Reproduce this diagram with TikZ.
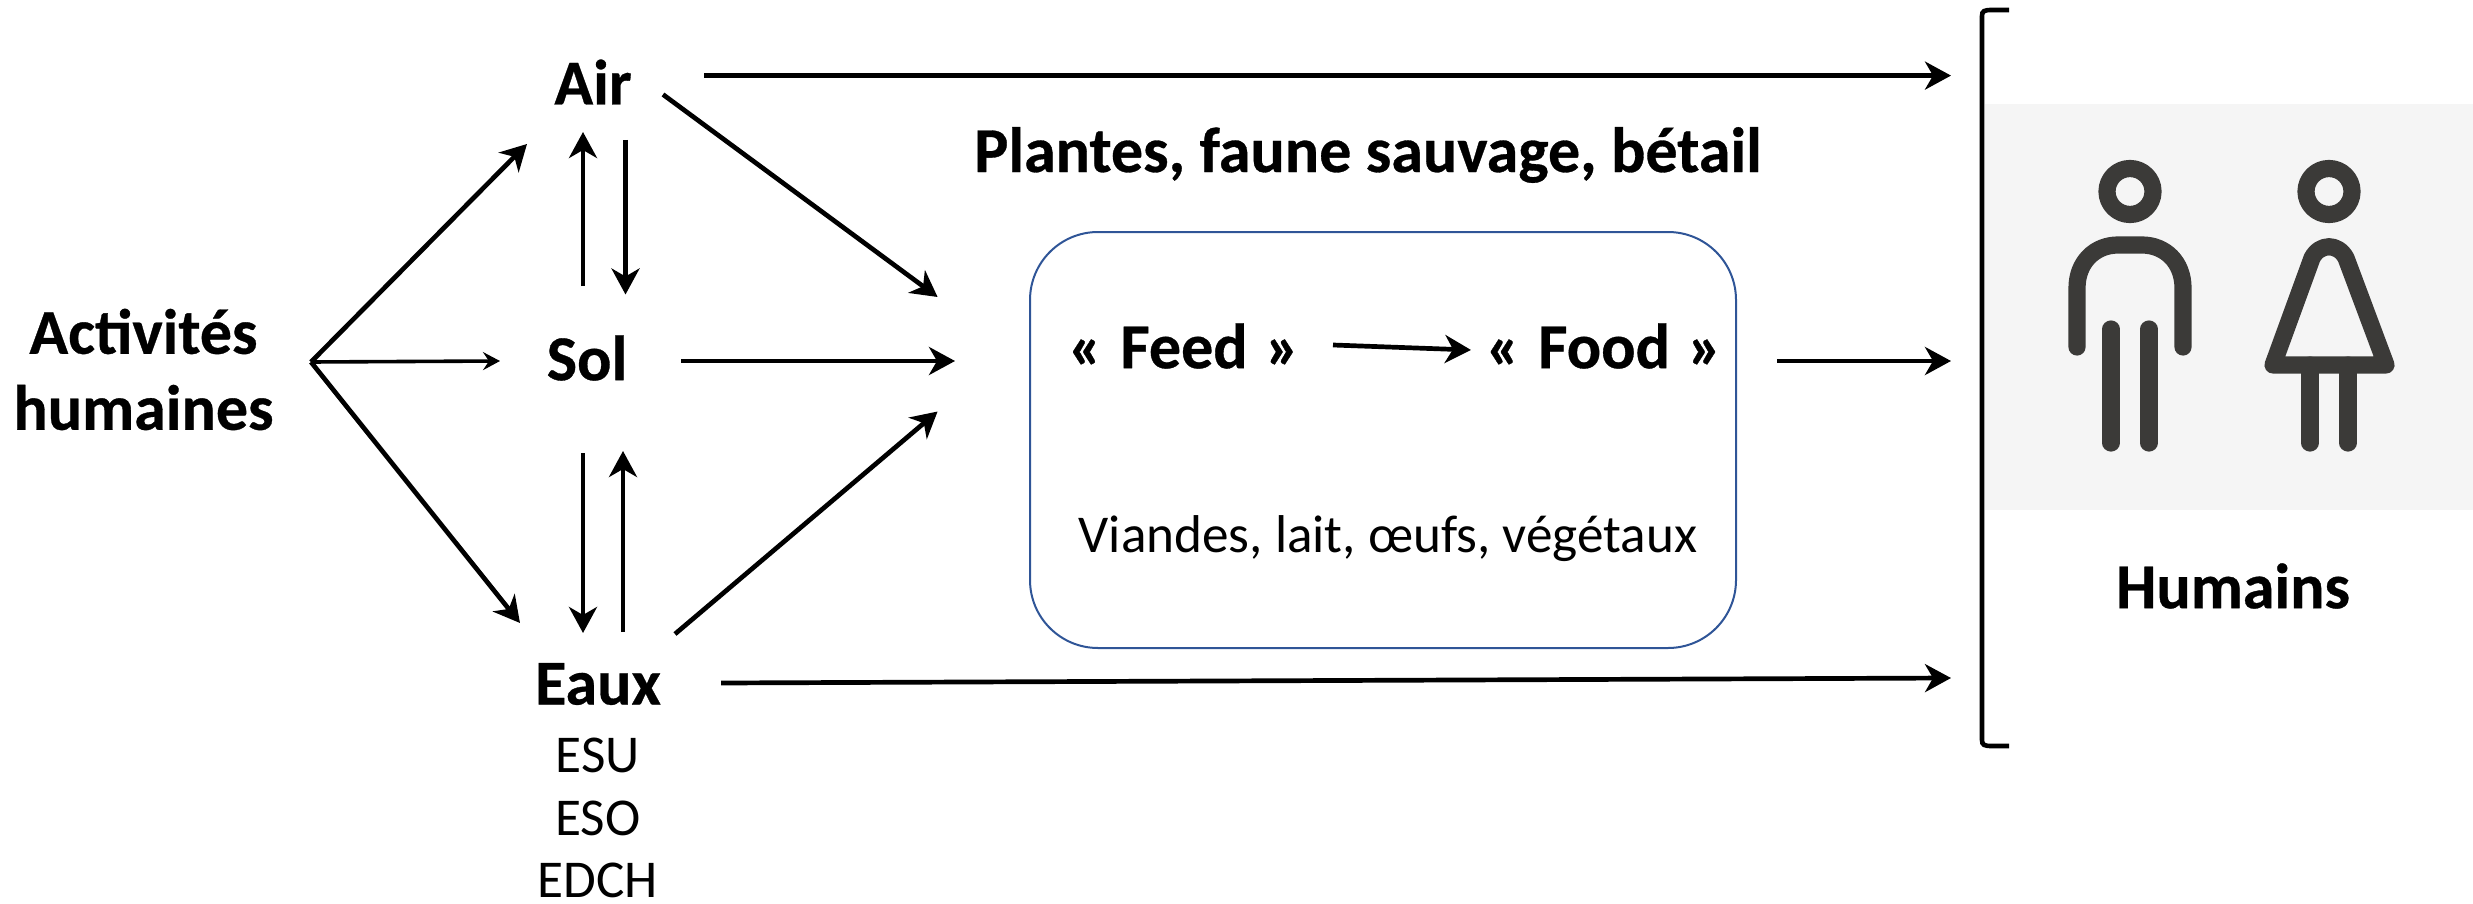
\documentclass[tikz,border=0pt]{standalone}
\usepackage{fontspec}
\setmainfont[BoldFeatures={FakeBold=0.5}]{Carlito}
\usetikzlibrary{arrows.meta}
\definecolor{icon}{HTML}{3B3A38}
\definecolor{band}{HTML}{F5F5F5}
\definecolor{boxblue}{HTML}{2F5597}
\tikzset{
  lab/.style={font=\fontsize{32}{36}\selectfont\bfseries,inner sep=0pt,align=center},
  sub/.style={font=\fontsize{26.6}{30}\selectfont,inner sep=0pt,align=center},
  arr/.style={line width=2.35pt,-{Stealth[length=13pt,width=14pt,inset=4pt]}},
  arrthin/.style={line width=1.8pt,-{Stealth[length=8.5pt,width=9pt,inset=3pt]}},
  iconline/.style={draw=icon,line width=8.6pt,line cap=round,line join=round},
}
\begin{document}
\begin{tikzpicture}[x=0.5pt,y=-0.5pt]
\useasboundingbox (0,0) rectangle (2473,904);
% humans panel
\fill[band] (1985,104) rectangle (2473,510);
\draw[line width=2.3pt,line cap=butt] (2009,10) -- (1992,10) .. controls (1984,10) and (1982,11) .. (1982,16) -- (1982,740) .. controls (1982,745) and (1984,746) .. (1992,746) -- (2009,746);
% man
\draw[iconline] (2130,191.5) circle[radius=23];
\draw[iconline] (2077,347) -- (2077,288) .. controls (2077,262) and (2095,245) .. (2118,245) -- (2142,245) .. controls (2165,245) and (2183,262) .. (2183,288) -- (2183,347);
\draw[iconline] (2111,329) -- (2111,443);
\draw[iconline] (2149,329) -- (2149,443);
% woman
\draw[iconline] (2329,191.5) circle[radius=23];
\draw[iconline] (2273,365) -- (2312,258) .. controls (2320,243) and (2338,243) .. (2346,258) -- (2386,365) -- cycle;
\draw[iconline] (2310,365) -- (2310,443);
\draw[iconline] (2348,365) -- (2348,443);
% nodes
\node[lab] (act) at (143.5,369.5) {Activités\\[2pt]humaines};
\node[lab] (air) at (593,82) {Air};
\node[lab] (sol) at (587,358) {Sol};
\node[lab] (eaux) at (598,684) {Eaux};
\node[sub] (esu) at (598,755) {ESU};
\node[sub] (eso) at (598,818) {ESO};
\node[sub] (edch) at (598,880) {EDCH};
\node[lab] (plantes) at (1368,155) {Plantes, faune sauvage, bétail};
\node[draw=boxblue,line width=1pt,rounded corners=34pt,minimum width=353pt,minimum height=208pt,inner sep=0pt] (box) at (1383,440) {};
\node[lab] (feed) at (1184,346) {«\hspace{.05em} Feed \hspace{.05em}»};
\node[lab] (food) at (1604,346) {«\hspace{.05em} Food \hspace{.05em}»};
\node[sub] (viandes) at (1388,539) {Viandes, lait, œufs, végétaux};
\node[lab] (hum) at (2233,586) {Humains};
% free ends
\coordinate (hub) at (311,362);
\coordinate (airin) at (527,144);
\coordinate (solin) at (500,361);
\coordinate (eauxin) at (520,623);
\coordinate (conv1) at (937.6,297);
\coordinate (conv2) at (955,361);
\coordinate (conv3) at (937.6,411.5);
\coordinate (h1) at (1951,75.6);
\coordinate (h2) at (1951,361);
\coordinate (h3) at (1951,678);
% connectors
\draw[arr] (hub) -- (airin);
\draw[arrthin] (hub) -- (solin);
\draw[arr] (hub) -- (eauxin);
\draw[arr] ([shift={(-4,-72)}]sol.center) -- ([shift={(-10,50)}]air.center);
\draw[arr] ([shift={(32.5,58)}]air.center) -- ([shift={(38.5,-63.5)}]sol.center);
\draw[arr] ([shift={(-4,95)}]sol.center) -- ([shift={(-15,-51)}]eaux.center);
\draw[arr] ([shift={(25,-52)}]eaux.center) -- ([shift={(36,93)}]sol.center);
\draw[arr] ([shift={(70,12.5)}]air.center) -- (conv1);
\draw[arr] ([shift={(94,3)}]sol.center) -- (conv2);
\draw[arr] ([shift={(77,-50)}]eaux.center) -- (conv3);
\draw[arr] ([shift={(111,-6.4)}]air.center) -- (h1);
\draw[arr] ([shift={(123,-1)}]eaux.center) -- (h3);
\draw[arr] ([shift={(149,-1)}]feed.center) -- ([shift={(-133,4)}]food.center);
\draw[arr] ([shift={(173,15)}]food.center) -- (h2);
\end{tikzpicture}
\end{document}
